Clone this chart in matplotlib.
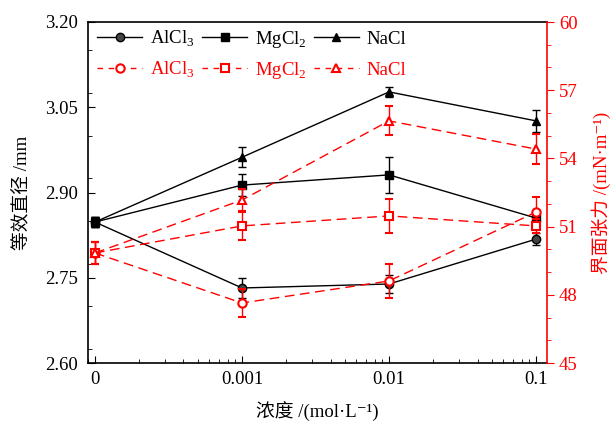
import matplotlib
matplotlib.use("Agg")
import matplotlib.pyplot as plt
from matplotlib.ticker import MultipleLocator, FixedLocator
from matplotlib.lines import Line2D

plt.rcParams['font.family'] = ['Liberation Serif', 'Noto Sans CJK SC', 'DejaVu Serif']
plt.rcParams['mathtext.fontset'] = 'custom'
plt.rcParams['mathtext.rm'] = 'Liberation Serif'

# Data
x_pos = [1e-4, 1e-3, 1e-2, 1e-1]
x_labels = ['0', '0.001', '0.01', '0.1']
left_ticks = [2.60, 2.75, 2.90, 3.05, 3.20]
right_ticks = [45, 48, 51, 54, 57, 60]
salt_labels = ['AlCl$_3$', 'MgCl$_2$', 'NaCl']

# Equivalent diameter (mm), left axis
d_alcl3 = [2.848, 2.732, 2.739, 2.818]
d_alcl3_err = [0.009, 0.018, 0.015, 0.010]
d_mgcl2 = [2.848, 2.913, 2.931, 2.855]
d_mgcl2_err = [0.009, 0.020, 0.031, 0.010]
d_nacl = [2.848, 2.962, 3.077, 3.026]
d_nacl_err = [0.009, 0.018, 0.009, 0.020]

# Interfacial tension (mN/m), right axis
t_alcl3 = [49.84, 47.64, 48.61, 51.64]
t_alcl3_err = [0.5, 0.6, 0.73, 0.66]
t_mgcl2 = [49.84, 51.03, 51.47, 51.03]
t_mgcl2_err = [0.5, 0.62, 0.75, 0.3]
t_nacl = [49.84, 52.17, 55.65, 54.41]
t_nacl_err = [0.5, 0.5, 0.64, 0.66]

fig = plt.figure(figsize=(6.12, 4.23), dpi=100)
ax = fig.add_axes([88/612, 60/423, (547-88)/612, (363-22)/423])
ax2 = ax.twinx()

fs = 13.5
ebk = dict(capsize=3, elinewidth=1, capthick=1, linewidth=1, markersize=6)

ax.errorbar(x_pos, d_alcl3, yerr=d_alcl3_err, color='black', marker='o',
            markerfacecolor='#444444', markeredgecolor='black', **ebk, zorder=3)
ax.errorbar(x_pos, d_mgcl2, yerr=d_mgcl2_err, color='black', marker='s', **ebk, zorder=3)
ax.errorbar(x_pos, d_nacl, yerr=d_nacl_err, color='black', marker='^', **ebk, zorder=3)

red = '#ff0000'
rk = dict(capsize=3, elinewidth=1, capthick=1, linewidth=1, markersize=6,
          markerfacecolor='white', markeredgewidth=1.5, dashes=(7, 4))
ax2.errorbar(x_pos, t_alcl3, yerr=t_alcl3_err, color=red, marker='o', **rk)
ax2.errorbar(x_pos, t_mgcl2, yerr=t_mgcl2_err, color=red, marker='s', **rk)
ax2.errorbar(x_pos, t_nacl, yerr=t_nacl_err, color=red, marker='^', **rk)

ax.set_xscale('log')
ax.set_xlim(8.97e-5, 0.1186)
ax.set_xticks(x_pos)
ax.set_xticklabels(x_labels)
ax.set_ylim(2.60, 3.20)
ax.yaxis.set_major_locator(FixedLocator(left_ticks))
ax.yaxis.set_minor_locator(MultipleLocator(0.075))
ax.set_yticklabels([f'{v:.2f}' for v in left_ticks])
ax.set_ylim(2.60, 3.20)
ax.tick_params(axis='both', which='both', direction='in', labelsize=fs)
ax.tick_params(axis='x', which='major', length=5, pad=6)
ax.tick_params(axis='x', which='minor', length=3)
ax.tick_params(axis='y', which='major', length=5, pad=7)
ax.tick_params(axis='y', which='minor', length=3)

ax2.set_ylim(45, 60)
ax2.yaxis.set_major_locator(FixedLocator(right_ticks))
ax2.yaxis.set_minor_locator(MultipleLocator(1))
ax2.tick_params(axis='y', which='both', direction='out', colors=red, labelsize=fs)
ax2.tick_params(axis='y', which='major', length=5)
ax2.tick_params(axis='y', which='minor', length=3)
ax2.spines['right'].set_color(red)
ax2.spines['right'].set_linewidth(1.2)
ax2.spines['left'].set_visible(False)
ax2.spines['top'].set_visible(False)
ax2.spines['bottom'].set_visible(False)
for s in ['left', 'bottom', 'top']:
    ax.spines[s].set_linewidth(1.2)
ax.spines['right'].set_visible(False)

ax.set_ylabel('等效直径 /mm', fontsize=fs, labelpad=10)
ax2.set_ylabel('界面张力 /(mN·m⁻¹)', fontsize=fs, color=red, labelpad=10)
ax.set_xlabel('浓度 /(mol·L⁻¹)', fontsize=fs, labelpad=10)

# Legends: black row, then red row
hb = [Line2D([], [], color='black', marker=m, markersize=6, lw=1,
             markerfacecolor=('#444444' if m == 'o' else 'black'))
      for m in ['o', 's', '^']]
hr = [Line2D([], [], color=red, marker=m, markerfacecolor='white',
             markeredgewidth=1.5, markersize=6, lw=1, dashes=(4, 4))
      for m in ['o', 's', '^']]
lk = dict(ncol=3, loc='upper left', frameon=False, fontsize=fs,
          handlelength=2.4, columnspacing=0.4, handletextpad=0.4,
          borderpad=0.2)
leg1 = ax.legend(hb, salt_labels, bbox_to_anchor=(-0.008, 1.018), **lk)
ax.add_artist(leg1)
leg2 = ax.legend(hr, salt_labels, bbox_to_anchor=(-0.008, 0.928), **lk)
for t in leg2.get_texts():
    t.set_color(red)

fig.savefig('out.png', dpi=100)
